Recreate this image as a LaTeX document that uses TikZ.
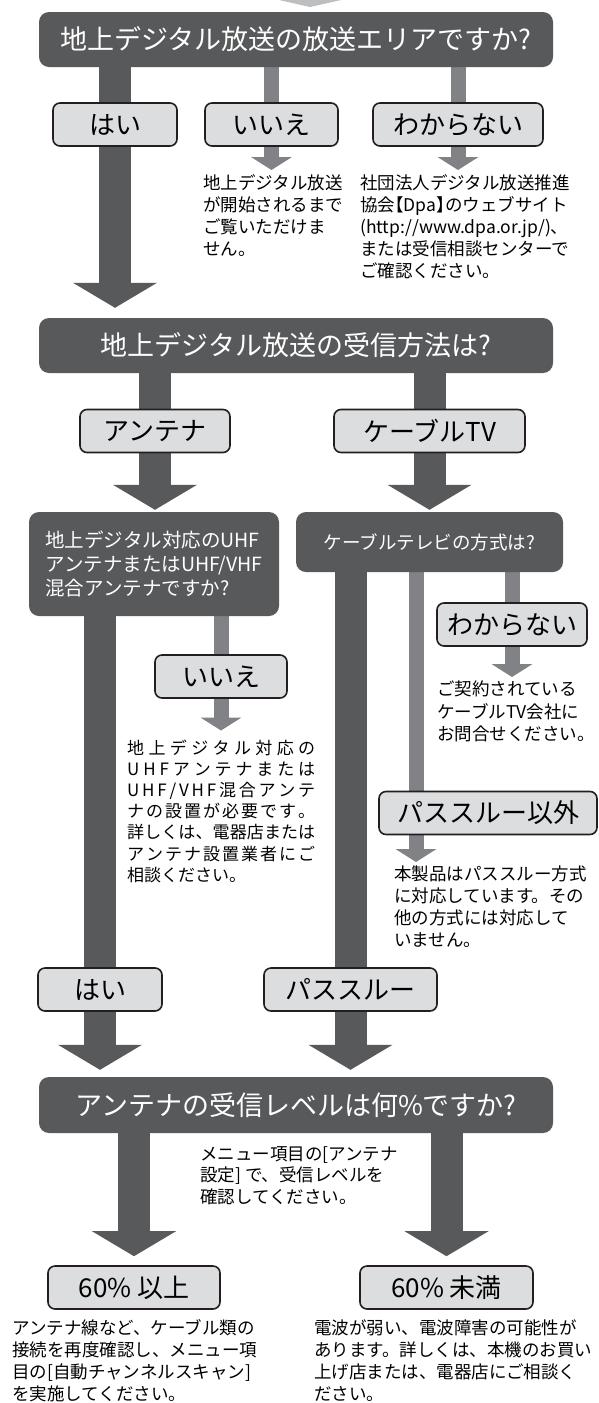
\documentclass[tikz,border=0pt]{standalone}
\usepackage{fontspec}
\setmainfont{Noto Sans CJK JP}
\usetikzlibrary{arrows.meta,backgrounds}
\definecolor{dk}{HTML}{58595B}
\definecolor{md}{HTML}{808285}
\definecolor{lt}{HTML}{DCDDDE}
\definecolor{bd}{HTML}{231F20}
\definecolor{tp}{HTML}{BCBEC0}
\makeatletter
\def\sprd#1{\sprd@a#1\@nil}
\def\sprd@a#1{#1\sprd@b}
\def\sprd@b#1{\ifx\@nil#1\else\hfil#1\expandafter\sprd@b\fi}
\makeatother
\newcommand\jline[1]{\hbox to 188pt{\sprd{#1}}}
\begin{document}
\begin{tikzpicture}[x=1pt,y=-1pt,
  qbox/.style={fill=dk, rounded corners=10pt, text=white, font=\fontsize{27}{32}\selectfont, inner sep=0pt, minimum height=55pt},
  qsmall/.style={fill=dk, rounded corners=10pt, text=white, font=\fontsize{18.5}{24}\selectfont, inner sep=0pt, align=left},
  lbl/.style={fill=lt, draw=bd, line width=1.6pt, rounded corners=7pt, font=\fontsize{26}{30}\selectfont, inner sep=0pt, minimum height=43pt},
  body/.style={anchor=north west, inner sep=0pt, align=left, font=\fontsize{17.5}{22}\selectfont},
  darr/.style={draw=dk, line width=32pt, -{Triangle[width=84pt,length=25pt,line width=0pt]}},
  garr/.style={draw=md, line width=15pt, -{Triangle[width=41pt,length=13pt,line width=0pt]}}]
\useasboundingbox (0,0) rectangle (599,1403);
\fill[tp] (270,-2) -- (350,-2) -- (310,7) -- cycle;
% questions
\node[qbox, minimum width=514pt] (q1) at (296,39.5) {地上デジタル放送の放送エリアですか?};
\node[qbox, minimum width=514pt] (q2) at (296,345.5) {地上デジタル放送の受信方法は?};
\node[qsmall, font=\fontsize{19.5}{24}\selectfont, minimum width=250pt, minimum height=104pt] (q3l) at (154,564) {地上デジタル対応のUHF\\アンテナまたはUHF/VHF\\混合アンテナですか?};
\node[qsmall, minimum width=267pt, minimum height=60pt] (q3r) at (429.5,542) {ケーブルテレビの方式は?};
\node[qbox, minimum width=514pt, minimum height=56pt] (q4) at (296,1105) {アンテナの受信レベルは何\%ですか?};
% labels
\node[lbl, minimum width=124pt] (hai1) at (115,124.5) {はい};
\node[lbl, minimum width=133pt] (iie1) at (271.5,124.5) {いいえ};
\node[lbl, minimum width=170pt] (wak1) at (458,124.5) {わからない};
\node[lbl, minimum width=150pt] (ant) at (155,431) {アンテナ};
\node[lbl, minimum width=191pt] (cab) at (429.5,431) {ケーブルTV};
\node[lbl, minimum width=132pt] (iie2) at (221,676.5) {いいえ};
\node[lbl, minimum width=150pt] (wak2) at (512,624.5) {わからない};
\node[lbl, minimum width=218pt] (pas5) at (488,813) {パススルー以外};
\node[lbl, minimum width=124pt] (hai2) at (100,989.5) {はい};
\node[lbl, minimum width=173pt] (pass) at (350.5,989.5) {パススルー};
\node[lbl, minimum width=172pt] (ijo) at (134,1287.5) {60\% 以上};
\node[lbl, minimum width=173pt] (mim) at (446.5,1287.5) {60\% 未満};
% texts
\node[body] (t1) at (203,174) {地上デジタル放送\\が開始されるまで\\ご覧いただけま\\せん。};
\node[body] (t2) at (360,174) {社団法人デジタル放送推進\\協会\kern-.5em【Dpa】\kern-.5em のウェブサイト\\(http://www.dpa.or.jp/)、\\または受信相談センターで\\ご確認ください。};
\node[anchor=north west, inner sep=0pt] (t3) at (127,739.5) {\vbox{\fontsize{17}{21.2}\selectfont
  \jline{地上デジタル対応の}
  \jline{UHFアンテナまたは}
  \jline{UHF/VHF混合アンテ}
  \jline{ナの設置が必要です。}
  \jline{詳しくは、電器店または}
  \jline{アンテナ設置業者にご}
  \hbox{相談ください。}}};
\node[body, font=\fontsize{17.5}{22.5}\selectfont] (t4) at (437,681) {ご契約されている\\ケーブルTV会社に\\お問合せください。};
\node[body] (t5) at (394,866) {本製品はパススルー方式\\に対応しています。その\\他の方式には対応して\\いません。};
\node[body, font=\fontsize{17.5}{21.5}\selectfont] (t6) at (200,1146) {メニュー項目の[アンテナ\\設定] で、受信レベルを\\確認してください。};
\node[body] (t7) at (12,1319) {アンテナ線など、ケーブル類の\\接続を再度確認し、メニュー項\\目の[自動チャンネルスキャン]\\を実施してください。};
\node[body] (t8) at (314,1319) {電波が弱い、電波障害の可能性が\\あります。詳しくは、本機のお買い\\上げ店または、電器店にご相談く\\ださい。};
\coordinate (g5) at ([xshift=22pt]t5.north west);
% connectors
\begin{pgfonlayer}{background}
\draw[darr, shorten >=10pt] (q1.south -| hai1) -- (q2.north -| hai1);
\draw[darr, shorten >=2pt] (q2.south -| ant) -- (q3l.north -| ant);
\draw[darr, shorten >=2pt] (q2.south -| cab) -- (q3r.north -| cab);
\draw[darr, shorten >=7pt] (q3l.south -| hai2) -- (q4.north -| hai2);
\draw[darr, shorten >=7pt] (q3r.south -| pass) -- (q4.north -| pass);
\draw[darr, shorten >=9pt] (q4.south -| ijo) -- (ijo.north);
\draw[darr, shorten >=9pt] (q4.south -| mim) -- (mim.north);
\draw[garr, shorten >=4pt] (q1.south -| iie1) -- (t1.north -| iie1);
\draw[garr, shorten >=4pt] (q1.south -| wak1) -- (t2.north -| wak1);
\draw[garr, shorten >=9pt] (q3l.south -| iie2) -- (t3.north -| iie2);
\draw[garr, shorten >=4pt] (q3r.south -| wak2) -- (t4.north -| wak2);
\draw[garr, shorten >=4pt] (q3r.south -| g5) -- (g5);
\end{pgfonlayer}
\end{tikzpicture}
\end{document}
